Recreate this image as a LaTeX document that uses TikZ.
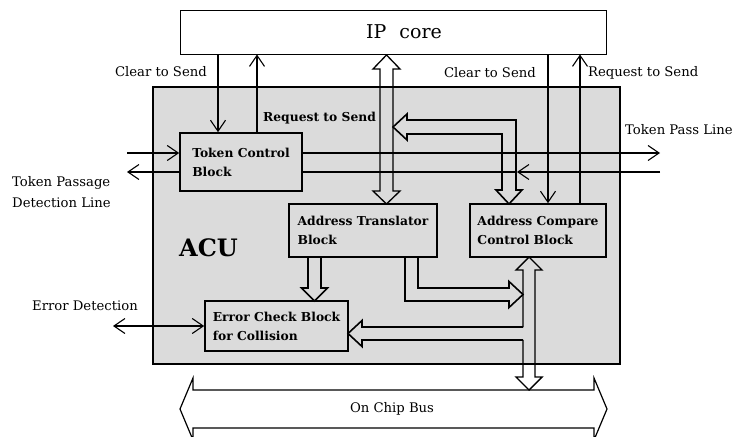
\documentclass[tikz,border=0pt]{standalone}
\usepackage{fontspec}
\setmainfont{DejaVu Serif}
\usetikzlibrary{arrows.meta}
\definecolor{acufill}{gray}{0.86}
\begin{document}
\begin{tikzpicture}[x=1pt,y=-1pt,
  tip/.style={-{Straight Barb[length=11pt,width=15pt]},line width=1.1pt},
  dtip/.style={{Straight Barb[length=11pt,width=15pt]}-{Straight Barb[length=11pt,width=15pt]},line width=1.1pt},
  block/.style={draw,line width=1.6pt,align=left,inner sep=0pt,font=\fontsize{12.3}{19}\selectfont\bfseries},
  lab/.style={inner sep=0pt,font=\fontsize{13.2}{21}\selectfont},
  blab/.style={inner sep=0pt,font=\fontsize{12.3}{19}\selectfont\bfseries},
  hollow/.style={line width=1.6pt,line join=miter}
]
\useasboundingbox (0,0) rectangle (738,436);
% IP core and ACU
\node[draw,line width=0.9pt,minimum width=426pt,minimum height=44pt,inner sep=0pt,
      font=\fontsize{19}{19}\selectfont] (ip) at (393,32) {\hspace*{22pt}IP\hspace{13pt}core};
\node[draw,fill=acufill,line width=1.3pt,minimum width=467pt,minimum height=277pt] (acu) at (386.5,225.5) {};
\node[anchor=west,inner sep=0pt,font=\fontsize{24}{24}\selectfont\bfseries] (acul) at (179,248) {ACU};
% blocks
\node[block,minimum width=122pt,minimum height=58pt] (tcb) at (241,162) {Token Control\\Block};
\node[block,minimum width=148pt,minimum height=53pt] (atb) at (363,230.5) {Address Translator\\Block};
\node[block,minimum width=136pt,minimum height=53pt] (acb) at (538,230.5) {Address Compare\\Control Block};
\node[block,minimum width=143pt,minimum height=50pt] (ecb) at (276.5,326) {Error Check Block\\for Collision};
% helper coordinates
\coordinate (xcl) at (218,0);
\coordinate (xrl) at (257,0);
\coordinate (xcr) at (548,0);
\coordinate (xrr) at (580,0);
\coordinate (tokL) at (127,0);
\coordinate (tokR) at (660,0);
\coordinate (xmid) at (517,0);
\coordinate (yu) at (0,153);
\coordinate (yd) at (0,172);
\coordinate (edL) at (113,326);
% clear / request to send
\draw[tip] (xcl |- ip.south) -- (xcl |- tcb.north);
\draw[tip] (xrl |- tcb.north) -- (xrl |- ip.south);
\draw[tip] (xcr |- ip.south) -- (xcr |- acb.north);
\draw[tip] (xrr |- acb.north) -- (xrr |- ip.south);
% token lines
\draw[tip] (tokL |- yu) -- (tcb.west |- yu);
\draw[tip] (tcb.west |- yd) -- (tokL |- yd);
\draw[tip] (tcb.east |- yu) -- (tokR |- yu);
\draw[tip] (tokR |- yd) -- (xmid |- yd);
\draw[line width=1.1pt] (xmid |- yd) -- (tcb.east |- yd);
% error detection
\draw[dtip] (edL) -- (ecb.west);
% hollow arrows
\draw[hollow,line width=1.3pt] (386.5,55) -- (400,69) -- (393,69) -- (393,191) -- (400,191) -- (386.5,204)
  -- (373,191) -- (380,191) -- (380,69) -- (373,69) -- cycle;
\draw[hollow] (393,127) -- (407,114) -- (407,120) -- (516,120) -- (516,190) -- (522,190) -- (509,204)
  -- (496,190) -- (502,190) -- (502,134) -- (407,134) -- (407,140) -- cycle;
\draw[hollow] (308,257) -- (308,288) -- (301.5,288) -- (314.5,301) -- (327.5,288) -- (321,288) -- (321,257);
\draw[hollow] (418,257) -- (418,288) -- (509,288) -- (509,281.5) -- (523,294.5) -- (509,307.5) -- (509,301)
  -- (405,301) -- (405,257);
\draw[hollow] (523,327) -- (362,327) -- (362,320.5) -- (348,333.5) -- (362,346.5) -- (362,340) -- (523,340);
\draw[hollow,line width=1.4pt] (523,327) -- (523,270) -- (516,270) -- (529,257) -- (542,270) -- (535,270)
  -- (535,377) -- (542,377) -- (529,390) -- (516,377) -- (523,377) -- (523,340);
% on chip bus
\begin{scope}
\clip (0,0) rectangle (738,436);
\draw[line width=1.2pt,line join=miter] (180,409) -- (193,378) -- (193,390) -- (594,390) -- (594,378) -- (607,409)
  -- (594,440) -- (594,428) -- (193,428) -- (193,440) -- cycle;
\end{scope}
\node[lab] (bus) at (392,409) {On Chip Bus};
% labels
\node[lab,anchor=east] (cts1) at (207,72) {Clear to Send};
\node[blab,anchor=west] (rts1) at (263,118) {Request to Send};
\node[lab,anchor=east] (cts2) at (536,73) {Clear to Send};
\node[lab,anchor=west] (rts2) at (588,73) {Request to Send};
\node[lab,anchor=west] (tpl) at (625,130) {Token Pass Line};
\node[lab,anchor=west,align=left] (tpd) at (12,192) {Token Passage\\Detection Line};
\node[lab,anchor=west] (ed) at (32,306) {Error Detection};
\end{tikzpicture}
\end{document}
